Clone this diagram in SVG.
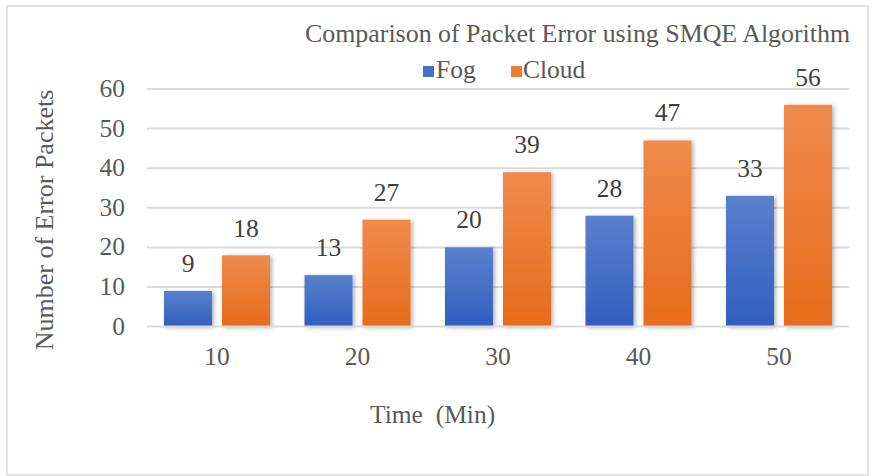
<svg xmlns="http://www.w3.org/2000/svg" width="872" height="476" viewBox="0 0 872 476">
  <style>
    .txt { font-family: "Liberation Serif", "Times New Roman", serif; font-size: 25.5px; fill: #595959; }
    .lbl { font-family: "Liberation Serif", "Times New Roman", serif; font-size: 25.5px; fill: #404040; text-anchor: middle; }
    .tick { text-anchor: end; }
    .cat { text-anchor: middle; }
    .grid { stroke: #d9d9d9; stroke-width: 2; }
    .fog { fill: url(#gFog); filter: url(#shadow); }
    .cloud { fill: url(#gCloud); filter: url(#shadow); }
  </style>
  <defs>
    <linearGradient id="gFog" x1="0" y1="0" x2="0" y2="1">
      <stop offset="0" stop-color="#5a80cd"/>
      <stop offset="1" stop-color="#2f5fbf"/>
    </linearGradient>
    <linearGradient id="gCloud" x1="0" y1="0" x2="0" y2="1">
      <stop offset="0" stop-color="#f08a4c"/>
      <stop offset="1" stop-color="#e66b1a"/>
    </linearGradient>
    <filter id="shadow" x="-20%" y="-10%" width="140%" height="120%">
      <feDropShadow dx="2" dy="1" stdDeviation="2" flood-color="#000" flood-opacity="0.3"/>
    </filter>
  </defs>

  <!-- chart frame -->
  <rect x="0" y="0" width="872" height="476" fill="#ffffff"/>
  <rect x="7" y="6" width="861" height="469" fill="#ffffff" stroke="#d9d9d9" stroke-width="1.5"/>

  <!-- title and legend -->
  <g id="title">
    <text class="txt" x="305" y="42" style="font-size:25.9px">Comparison of Packet Error using SMQE Algorithm</text>
  </g>
  <g id="legend">
    <rect x="423" y="66" width="11" height="11" fill="#4472c4"/>
    <text class="txt" x="436" y="78">Fog</text>
    <rect x="511" y="66" width="11" height="11" fill="#ed7d31"/>
    <text class="txt" x="523" y="78">Cloud</text>
  </g>

  <!-- gridlines -->
  <g id="gridlines">
    <line class="grid" x1="147" y1="89" x2="849" y2="89"/>
    <line class="grid" x1="147" y1="128.6" x2="849" y2="128.6"/>
    <line class="grid" x1="147" y1="168.2" x2="849" y2="168.2"/>
    <line class="grid" x1="147" y1="207.8" x2="849" y2="207.8"/>
    <line class="grid" x1="147" y1="247.4" x2="849" y2="247.4"/>
    <line class="grid" x1="147" y1="287" x2="849" y2="287"/>
  </g>

  <!-- y axis -->
  <g id="y-axis">
    <text class="txt tick" x="125" y="97">60</text>
    <text class="txt tick" x="125" y="136.6">50</text>
    <text class="txt tick" x="125" y="176.2">40</text>
    <text class="txt tick" x="125" y="215.8">30</text>
    <text class="txt tick" x="125" y="255.4">20</text>
    <text class="txt tick" x="125" y="295">10</text>
    <text class="txt tick" x="125" y="334.6">0</text>
    <text class="txt" text-anchor="middle" style="font-size:26px" transform="translate(53 220) rotate(-90)">Number of Error Packets</text>
  </g>

  <!-- bars: 10 units = 39.6 px, baseline y = 326.6 -->
  <g id="series-fog">
    <rect class="fog" x="164" y="291" width="48" height="35.6"/>
    <rect class="fog" x="304.5" y="275.1" width="48" height="51.5"/>
    <rect class="fog" x="445" y="247.4" width="48" height="79.2"/>
    <rect class="fog" x="585.5" y="215.7" width="48" height="110.9"/>
    <rect class="fog" x="726" y="195.9" width="48" height="130.7"/>
  </g>
  <g id="series-cloud">
    <rect class="cloud" x="222" y="255.3" width="48" height="71.3"/>
    <rect class="cloud" x="362.5" y="219.7" width="48" height="106.9"/>
    <rect class="cloud" x="503" y="172.2" width="48" height="154.4"/>
    <rect class="cloud" x="643.5" y="140.5" width="48" height="186.1"/>
    <rect class="cloud" x="784" y="104.8" width="48" height="221.8"/>
  </g>
  <line class="grid" x1="147" y1="326.6" x2="849" y2="326.6"/>

  <!-- data labels -->
  <g id="data-labels">
    <text class="lbl" x="188" y="272">9</text>
    <text class="lbl" x="246" y="237">18</text>
    <text class="lbl" x="328.5" y="256">13</text>
    <text class="lbl" x="386.5" y="201">27</text>
    <text class="lbl" x="469" y="228">20</text>
    <text class="lbl" x="527" y="153">39</text>
    <text class="lbl" x="609.5" y="197">28</text>
    <text class="lbl" x="667.5" y="121">47</text>
    <text class="lbl" x="750" y="177">33</text>
    <text class="lbl" x="808" y="86">56</text>
  </g>

  <!-- x axis -->
  <g id="x-axis">
    <text class="txt cat" x="217" y="365">10</text>
    <text class="txt cat" x="357.5" y="365">20</text>
    <text class="txt cat" x="498" y="365">30</text>
    <text class="txt cat" x="638.5" y="365">40</text>
    <text class="txt cat" x="779" y="365">50</text>
    <text class="txt" x="370" y="423" xml:space="preserve">Time  (Min)</text>
  </g>
</svg>
